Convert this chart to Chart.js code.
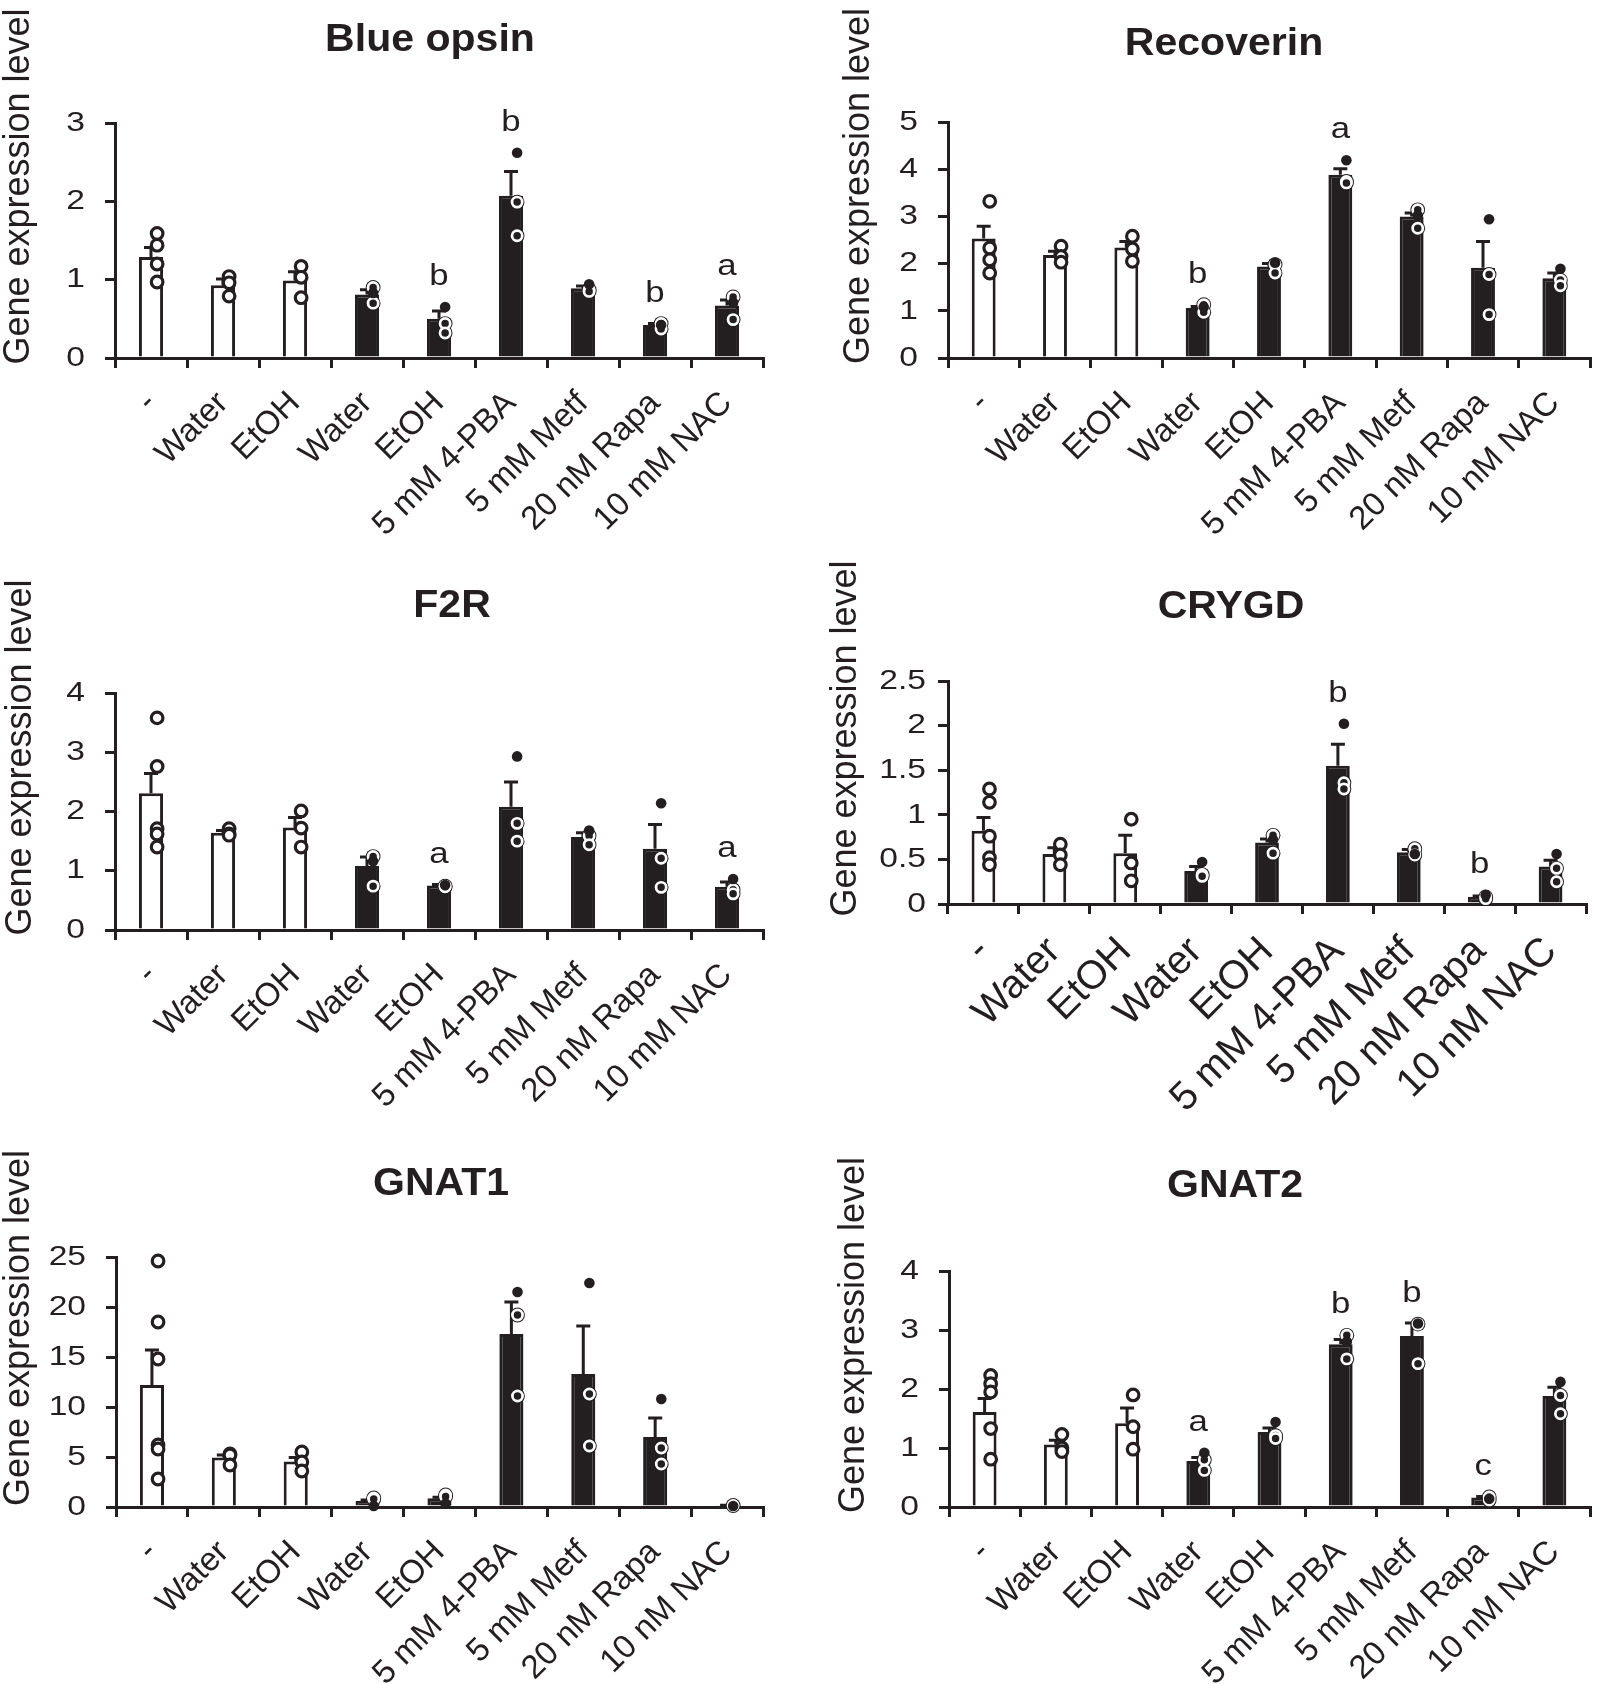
<!DOCTYPE html>
<html>
<head>
<meta charset="utf-8">
<script src="https://cdn.jsdelivr.net/npm/chart.js@4.4.1/dist/chart.umd.min.js"></script>
<style>
  body { margin: 0; background: #fff; width: 1599px; height: 1684px; position: relative; overflow: hidden; }
  canvas { position: absolute; }
</style>
</head>
<body>
<canvas id="c0"></canvas>
<canvas id="c1"></canvas>
<canvas id="c2"></canvas>
<canvas id="c3"></canvas>
<canvas id="c4"></canvas>
<canvas id="c5"></canvas>
<script>
// categories (the last label differs between panels)
const catsMM = ['-', 'Water', 'EtOH', 'Water', 'EtOH', '5 mM 4-PBA', '5 mM Metf', '20 nM Rapa', '10 mM NAC'];
const catsNM = ['-', 'Water', 'EtOH', 'Water', 'EtOH', '5 mM 4-PBA', '5 mM Metf', '20 nM Rapa', '10 nM NAC'];
const blackBar = [false, false, false, true, true, true, true, true, true];

// Blue opsin
const blueOpsinTicks = [0, 1, 2, 3];
const blueOpsinMean = [1.29, 0.93, 0.99, 0.81, 0.50, 2.07, 0.89, 0.42, 0.67];
const blueOpsinSem = [0.12, 0.08, 0.11, 0.06, 0.10, 0.31, 0.03, 0.02, 0.07];
const blueOpsinOpen = [[1.59, 1.44, 1.20, 0.97], [1.04, 0.96, 0.79], [1.17, 1.03, 0.77], [0.90, 0.70], [0.44, 0.32], [1.99, 1.56], [0.87, 0.85], [0.44, 0.37], [0.78, 0.49]];
const blueOpsinFilled = [[], [], [], [0.83], [0.65], [2.62], [0.94], [0.42], [0.71]];
const blueOpsinLetters = ['', '', '', '', 'b', 'b', '', 'b', 'a'];

// Recoverin
const recoverinTicks = [0, 1, 2, 3, 4, 5];
const recoverinMean = [2.53, 2.18, 2.34, 1.06, 1.94, 3.88, 3.00, 1.91, 1.69];
const recoverinSem = [0.26, 0.08, 0.13, 0.03, 0.06, 0.13, 0.07, 0.56, 0.11];
const recoverinOpen = [[3.32, 2.33, 2.08, 1.80], [2.37, 2.15, 2.03], [2.58, 2.31, 2.05], [1.13, 0.97], [1.98, 1.80], [3.74, 3.71], [3.14, 2.75], [1.77, 0.92], [1.65, 1.53]];
const recoverinFilled = [[], [], [], [1.08], [2.02], [4.19], [3.02], [2.94], [1.89]];
const recoverinLetters = ['', '', '', 'b', '', 'a', '', '', ''];

// F2R
const f2rTicks = [0, 1, 2, 3, 4];
const f2rMean = [2.31, 1.64, 1.73, 1.08, 0.75, 2.08, 1.57, 1.37, 0.73];
const f2rSem = [0.33, 0.04, 0.17, 0.15, 0.02, 0.42, 0.07, 0.41, 0.08];
const f2rOpen = [[3.58, 2.76, 1.71, 1.62, 1.40], [1.71, 1.62, 1.60], [2.01, 1.72, 1.40], [1.24, 0.74], [0.74, 0.73], [1.80, 1.50], [1.59, 1.44], [1.21, 0.72], [0.68, 0.61]];
const f2rFilled = [[], [], [], [1.16], [0.76], [2.93], [1.68], [2.14], [0.86]];
const f2rLetters = ['', '', '', '', 'a', '', '', '', 'a'];

// CRYGD
const crygdTicks = [0, 0.5, 1, 1.5, 2, 2.5];
const crygdMean = [0.82, 0.56, 0.57, 0.37, 0.69, 1.55, 0.58, 0.08, 0.42];
const crygdSem = [0.15, 0.07, 0.20, 0.05, 0.04, 0.24, 0.03, 0.01, 0.07];
const crygdOpen = [[1.29, 1.14, 0.76, 0.52, 0.44], [0.67, 0.55, 0.44], [0.95, 0.46, 0.26], [0.33, 0.31], [0.77, 0.57], [1.36, 1.29], [0.62, 0.55], [0.08, 0.06], [0.40, 0.25]];
const crygdFilled = [[], [], [], [0.47], [0.72], [2.02], [0.56], [0.10], [0.56]];
const crygdLetters = ['', '', '', '', '', 'b', '', 'b', ''];

// GNAT1
const gnat1Ticks = [0, 5, 10, 15, 20, 25];
const gnat1Mean = [12.2, 4.96, 4.56, 0.6, 0.87, 17.3, 13.3, 7.0, 0.13];
const gnat1Sem = [3.5, 0.24, 0.4, 0.1, 0.1, 3.2, 4.8, 1.9, 0.05];
const gnat1Open = [[24.6, 18.5, 14.8, 6.2, 5.8, 2.8], [5.3, 5.2, 4.2], [5.5, 4.5, 3.6], [0.9, 0.8], [1.2, 1.05], [19.2, 11.1], [11.3, 6.1], [5.9, 4.3], [0.15]];
const gnat1Filled = [[], [], [], [0.1], [0.35], [21.5], [22.4], [10.8], [0.1]];
const gnat1Letters = ['', '', '', '', '', '', '', '', ''];

// GNAT2
const gnat2Ticks = [0, 1, 2, 3, 4];
const gnat2Mean = [1.61, 1.06, 1.42, 0.78, 1.27, 2.76, 2.90, 0.16, 1.88];
const gnat2Sem = [0.23, 0.07, 0.26, 0.06, 0.07, 0.08, 0.22, 0.02, 0.15];
const gnat2Open = [[2.23, 2.09, 1.95, 1.33, 0.81], [1.23, 1.00, 0.94], [1.90, 1.36, 0.98], [0.80, 0.62], [1.21, 1.16], [2.91, 2.51], [3.10, 2.43], [0.17, 0.12], [1.89, 1.58]];
const gnat2Filled = [[], [], [], [0.92], [1.44], [2.80], [3.11], [0.14], [2.12]];
const gnat2Letters = ['', '', '', 'a', '', 'b', 'b', 'c', ''];

const INK = '#231f20';
const FONT = '"Liberation Sans", Arial, Helvetica, sans-serif';
const SHIFT = 0.085;   // dots sit a little right of the bar centre
const STRETCH = 1.2;   // the source figure's lettering is a bit wide

Chart.defaults.font.family = FONT;
Chart.defaults.color = INK;

const panels = [
    { id: 'c0', title: 'Blue opsin', cats: catsMM, ticks: blueOpsinTicks, mean: blueOpsinMean, sem: blueOpsinSem, open: blueOpsinOpen, filled: blueOpsinFilled, letters: blueOpsinLetters,
      box: { left: 0, top: 0, w: 800, h: 545 }, axisX: 115, yTop: 123, yZero: 358, xRight: 763, titleX: 430, titleY: 41, yTitleX: 19, catFont: 33, catPad: 16, tickPad: 20 },
    { id: 'c1', title: 'Recoverin', cats: catsNM, ticks: recoverinTicks, mean: recoverinMean, sem: recoverinSem, open: recoverinOpen, filled: recoverinFilled, letters: recoverinLetters,
      box: { left: 800, top: 0, w: 799, h: 545 }, axisX: 948, yTop: 122, yZero: 358, xRight: 1590, titleX: 1224, titleY: 45, yTitleX: 859, catFont: 33, catPad: 16, tickPad: 20 },
    { id: 'c2', title: 'F2R', cats: catsMM, ticks: f2rTicks, mean: f2rMean, sem: f2rSem, open: f2rOpen, filled: f2rFilled, letters: f2rLetters,
      box: { left: 0, top: 545, w: 800, h: 585 }, axisX: 115, yTop: 693, yZero: 930, xRight: 763, titleX: 452, titleY: 607, yTitleX: 21, catFont: 33, catPad: 16, tickPad: 20 },
    { id: 'c3', title: 'CRYGD', cats: catsNM, ticks: crygdTicks, mean: crygdMean, sem: crygdSem, open: crygdOpen, filled: crygdFilled, letters: crygdLetters,
      box: { left: 800, top: 545, w: 799, h: 585 }, axisX: 948, yTop: 681, yZero: 904, xRight: 1594, titleX: 1231, titleY: 608, yTitleX: 846, catFont: 40, catPad: 14, tickPad: 12 },
    { id: 'c4', title: 'GNAT1', cats: catsNM, ticks: gnat1Ticks, mean: gnat1Mean, sem: gnat1Sem, open: gnat1Open, filled: gnat1Filled, letters: gnat1Letters,
      box: { left: 0, top: 1130, w: 800, h: 554 }, axisX: 116, yTop: 1257, yZero: 1507, xRight: 763, titleX: 441, titleY: 1185, yTitleX: 19, catFont: 33, catPad: 16, tickPad: 20 },
    { id: 'c5', title: 'GNAT2', cats: catsNM, ticks: gnat2Ticks, mean: gnat2Mean, sem: gnat2Sem, open: gnat2Open, filled: gnat2Filled, letters: gnat2Letters,
      box: { left: 800, top: 1130, w: 799, h: 554 }, axisX: 949, yTop: 1271, yZero: 1507, xRight: 1590, titleX: 1235, titleY: 1187, yTitleX: 854, catFont: 33, catPad: 16, tickPad: 20 },
];

// upper error bar (stem + cap), drawn right after the bars so the dots cover it
const errorBars = {
    id: 'errorBars',
    afterDatasetDraw(chart, args, opts) {
        if (args.index !== 0) return;
        const { ctx } = chart;
        const y = chart.scales.y;
        ctx.save();
        ctx.strokeStyle = INK;
        ctx.lineWidth = 3;
        args.meta.data.forEach((bar, i) => {
            const top = y.getPixelForValue(opts.mean[i] + opts.sem[i]);
            ctx.beginPath();
            ctx.moveTo(bar.x, bar.y);
            ctx.lineTo(bar.x, top);
            ctx.moveTo(bar.x - 7, top);
            ctx.lineTo(bar.x + 7, top);
            ctx.stroke();
        });
        ctx.restore();
    }
};

function wideText(ctx, text, x, y, align) {
    ctx.save();
    ctx.translate(x, y);
    ctx.scale(STRETCH, 1);
    ctx.textAlign = align;
    ctx.fillText(text, 0, 0);
    ctx.restore();
}

// y tick labels, titles, y axis title and significance letters
const panelText = {
    id: 'panelText',
    afterDraw(chart, args, o) {
        const { ctx } = chart;
        const y = chart.scales.y;
        const bars = chart.getDatasetMeta(0).data;
        ctx.save();
        ctx.fillStyle = INK;

        ctx.font = '28px ' + FONT;
        ctx.textBaseline = 'middle';
        y.ticks.forEach(t => {
            wideText(ctx, String(t.value), chart.chartArea.left - 10 - o.tickPad, y.getPixelForValue(t.value), 'right');
        });

        ctx.font = '29px ' + FONT;
        ctx.textBaseline = 'alphabetic';
        o.letters.forEach((letter, i) => {
            if (!letter) return;
            const pts = o.open[i].concat(o.filled[i]);
            const dotTop = y.getPixelForValue(Math.max(...pts)) - 7;
            const errTop = y.getPixelForValue(o.mean[i] + o.sem[i]);
            wideText(ctx, letter, bars[i].x, Math.min(dotTop, errTop) - 15, 'center');
        });

        ctx.textBaseline = 'middle';
        ctx.font = 'bold 38px ' + FONT;
        ctx.save();
        ctx.translate(o.titleX, o.titleY);
        ctx.scale(1.08, 1);
        ctx.textAlign = 'center';
        ctx.fillText(o.title, 0, 0);
        ctx.restore();

        ctx.font = '36px ' + FONT;
        ctx.textAlign = 'center';
        ctx.translate(o.yTitleX, o.yTitleY);
        ctx.rotate(-Math.PI / 2);
        ctx.fillText('Gene expression level', 0, 0);
        ctx.restore();
    }
};

panels.forEach(p => {
    const canvas = document.getElementById(p.id);
    canvas.width = p.box.w;
    canvas.height = p.box.h;
    canvas.style.left = p.box.left + 'px';
    canvas.style.top = p.box.top + 'px';

    const areaLeft = p.axisX - p.box.left;
    const areaTop = p.yTop - p.box.top;
    const areaBottom = p.yZero - p.box.top;
    const areaRight = p.xRight - p.box.left;

    const openWhite = [], openBlack = [], filled = [];
    p.open.forEach((vals, i) => vals.forEach(v => (blackBar[i] ? openBlack : openWhite).push({ x: i + SHIFT, y: v })));
    p.filled.forEach((vals, i) => vals.forEach(v => filled.push({ x: i + SHIFT, y: v })));

    const yMax = p.ticks[p.ticks.length - 1];
    const yStep = p.ticks[1] - p.ticks[0];

    new Chart(canvas.getContext('2d'), {
        type: 'bar',
        data: {
            labels: p.cats,
            datasets: [
                {
                    data: p.mean,
                    xAxisID: 'x',
                    backgroundColor: blackBar.map(b => (b ? INK : '#ffffff')),
                    borderColor: INK,
                    borderWidth: 3,
                    grouped: false,
                    barPercentage: 0.335,
                    categoryPercentage: 1,
                    order: 10,
                },
                // dark rim behind the open dots on black bars
                { type: 'scatter', data: openBlack, xAxisID: 'xp', pointRadius: 7.4, pointBackgroundColor: INK, pointBorderWidth: 0, clip: false, order: 5 },
                { type: 'scatter', data: openBlack, xAxisID: 'xp', pointRadius: 5.1, pointBackgroundColor: INK, pointBorderColor: '#ffffff', pointBorderWidth: 2.7, clip: false, order: 4 },
                { type: 'scatter', data: openWhite, xAxisID: 'xp', pointRadius: 5.8, pointBackgroundColor: '#ffffff', pointBorderColor: INK, pointBorderWidth: 3.2, clip: false, order: 3 },
                { type: 'scatter', data: filled, xAxisID: 'xp', pointRadius: 5.3, pointBackgroundColor: INK, pointBorderWidth: 0, clip: false, order: 1 },
            ],
        },
        options: {
            responsive: false,
            animation: false,
            devicePixelRatio: 1,
            events: [],
            layout: { padding: { left: 0, top: areaTop, right: p.box.w - areaRight, bottom: 0 } },
            plugins: {
                legend: { display: false },
                tooltip: { enabled: false },
                errorBars: { mean: p.mean, sem: p.sem },
                panelText: {
                    title: p.title,
                    titleX: p.titleX - p.box.left,
                    titleY: p.titleY - p.box.top,
                    yTitleX: p.yTitleX - p.box.left,
                    yTitleY: (p.yTop + p.yZero) / 2 - 54 - p.box.top,
                    tickPad: p.tickPad,
                    letters: p.letters, open: p.open, filled: p.filled, mean: p.mean, sem: p.sem,
                },
            },
            scales: {
                x: {
                    type: 'category',
                    offset: true,
                    grid: { offset: true, drawOnChartArea: false, drawTicks: true, tickLength: 10, lineWidth: 3, color: INK },
                    border: { display: true, width: 3, color: INK },
                    ticks: { color: INK, font: { size: p.catFont }, minRotation: 45, maxRotation: 45, autoSkip: false, padding: p.catPad },
                    afterFit: s => { s.height = p.box.h - areaBottom; },
                },
                xp: { type: 'linear', offset: false, min: -0.5, max: 8.5, display: false },
                y: {
                    min: 0,
                    max: yMax,
                    ticks: { stepSize: yStep, display: false },
                    grid: { drawOnChartArea: false, drawTicks: true, tickLength: 10, lineWidth: 3, color: INK },
                    border: { display: true, width: 3, color: INK },
                    afterFit: s => { s.width = areaLeft; },
                },
            },
        },
        plugins: [errorBars, panelText],
    });
});
</script>
</body>
</html>
